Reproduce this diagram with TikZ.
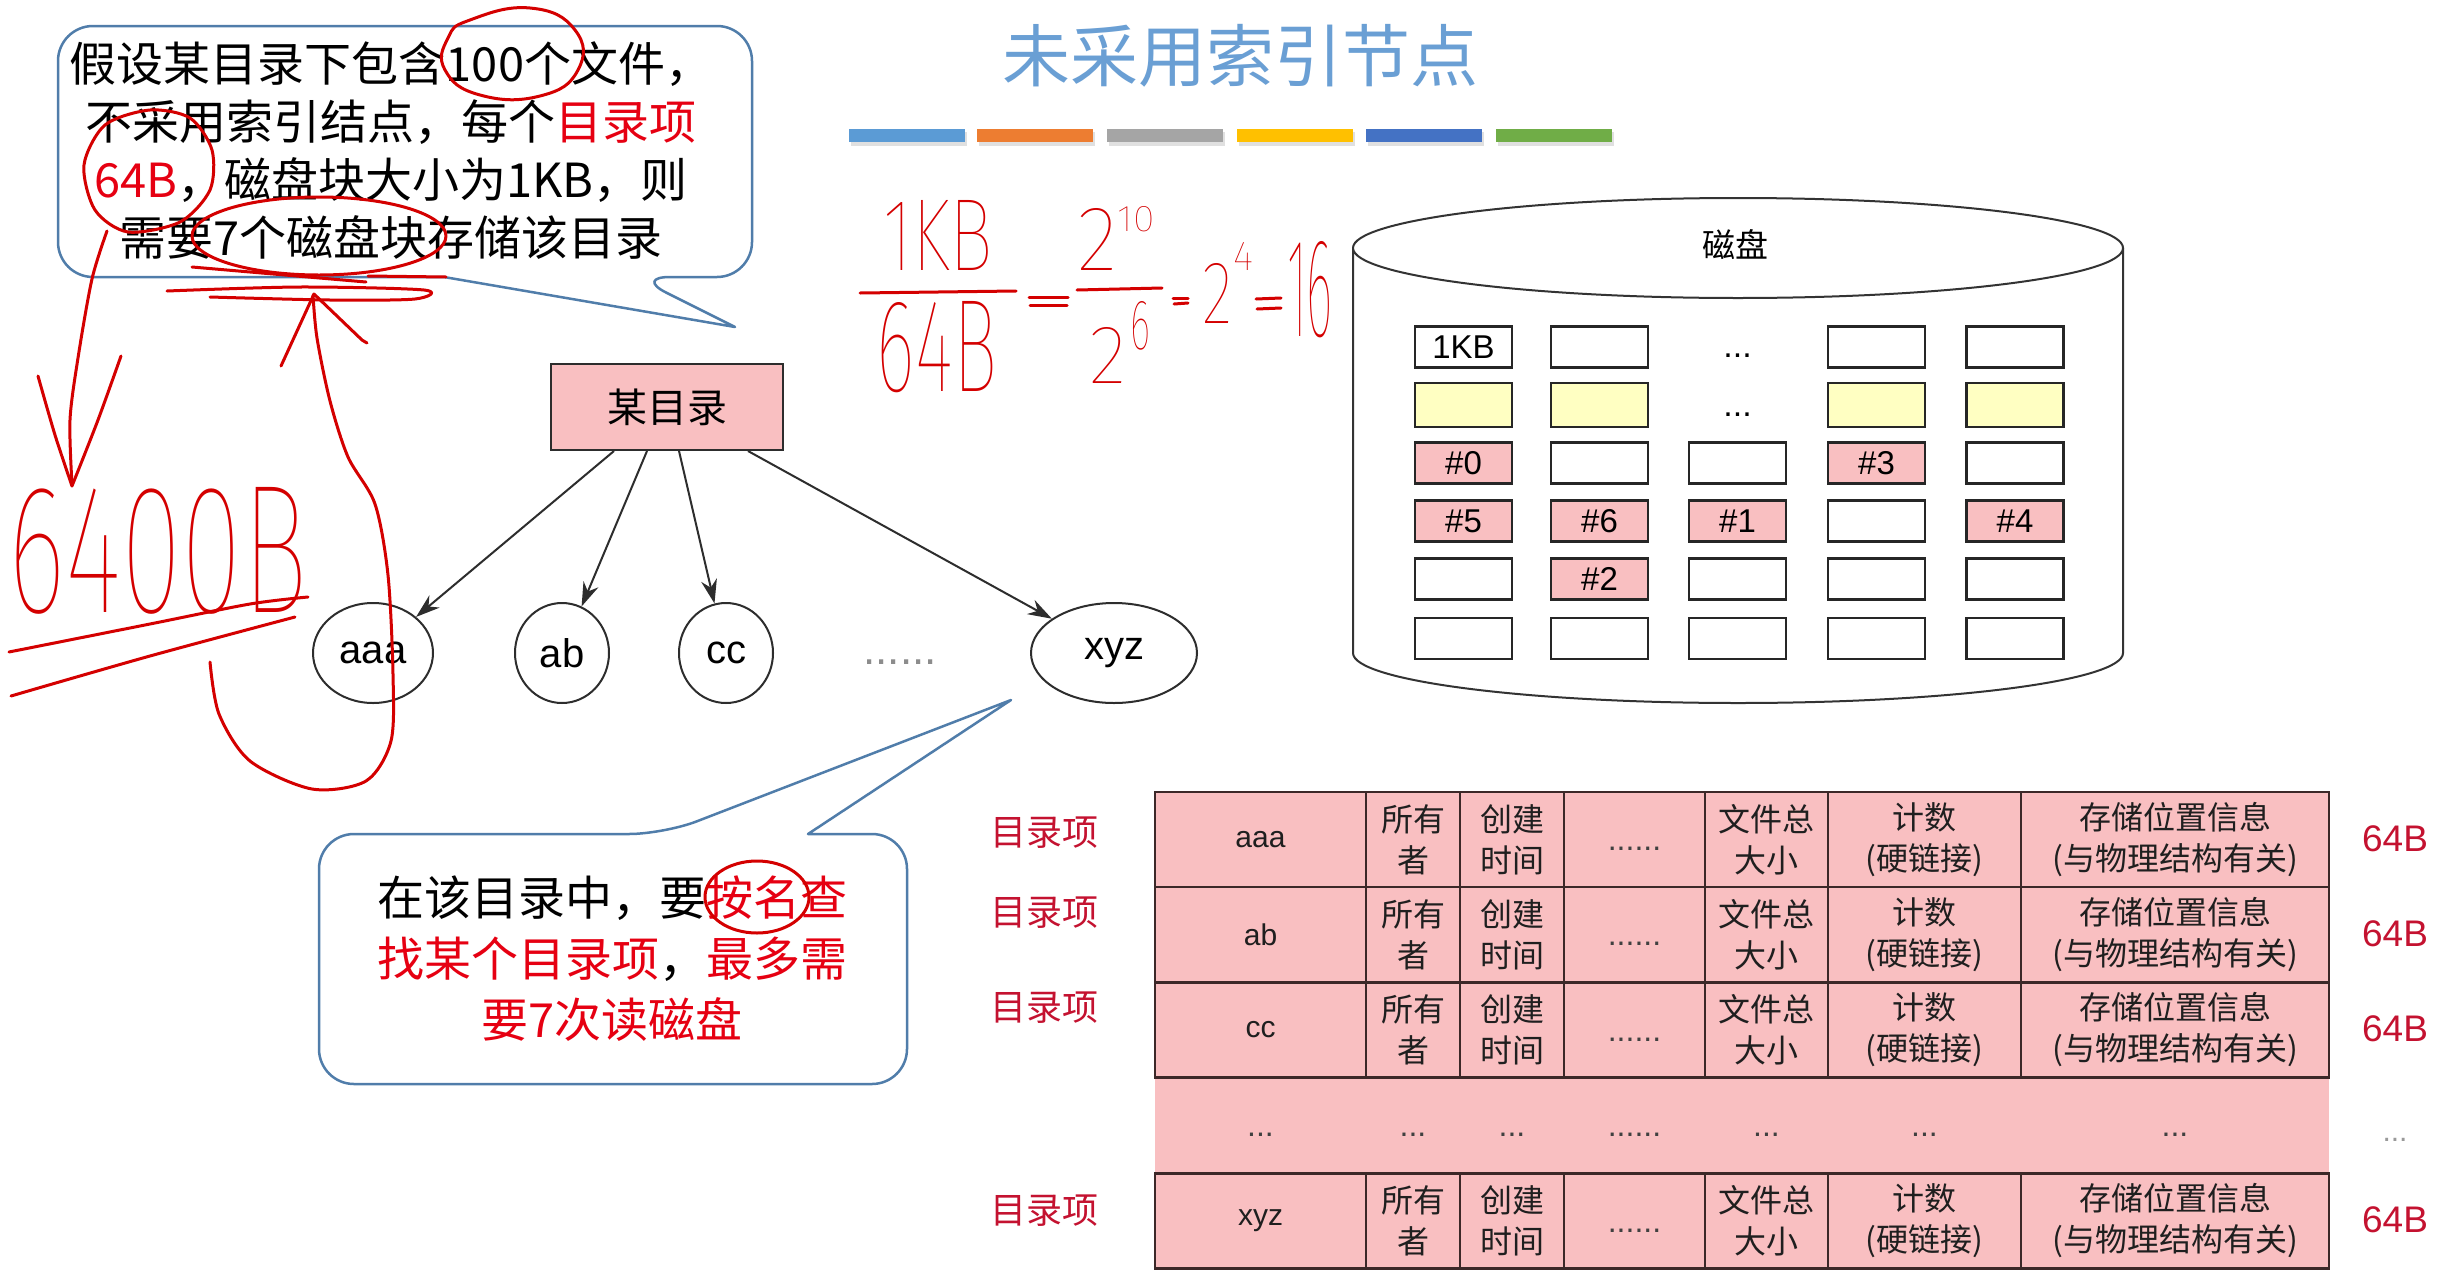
\documentclass[tikz,border=0pt]{standalone}
\usepackage{fontspec}
\usepackage{graphicx}
\setmainfont{Liberation Sans}
\newfontfamily\cjk{Noto Sans CJK SC}
\newfontfamily\hand{Fira Sans Thin}
\usetikzlibrary{arrows.meta,shapes.geometric,calc}

\definecolor{titleblue}{RGB}{106,159,212}
\definecolor{barA}{RGB}{91,155,213}
\definecolor{barB}{RGB}{237,125,49}
\definecolor{barC}{RGB}{165,165,165}
\definecolor{barD}{RGB}{255,192,0}
\definecolor{barE}{RGB}{68,114,196}
\definecolor{barF}{RGB}{112,173,71}
\definecolor{pinkfill}{RGB}{249,191,193}
\definecolor{paleyellow}{RGB}{255,255,194}
\definecolor{bubbleblue}{RGB}{80,125,170}
\definecolor{hot}{RGB}{230,0,18}
\definecolor{crimson}{RGB}{196,18,48}
\definecolor{inkred}{RGB}{212,0,0}
\definecolor{darkline}{RGB}{45,45,45}
\definecolor{tableline}{RGB}{60,40,40}

\newcommand{\tdots}{...}
\newcommand{\sdots}{......}

% handwritten word, stretched to a given box
\newcommand{\scrawl}[6]{\node[inkword] (#1) at (#2,#3) {\resizebox{#4pt}{#5pt}{\hand #6}};}

% one directory entry of the table
\newcommand{\entryrow}[3]{%
  \node[cell, minimum width=211pt, font={\fontsize{30}{36}\selectfont}] (#3-name) at (1260.5,#1) {#2};
  \node[cell, minimum width=94pt]  (#3-owner) at (1413,#1)   {所有\\者};
  \node[cell, minimum width=104pt] (#3-time)  at (1512,#1)   {创建\\时间};
  \node[cell, minimum width=141pt] (#3-etc)   at (1634.5,#1) {};
  \node[celldots] (#3-etcdots) at (1634.5,#1+11) {\sdots};
  \node[cell, minimum width=123pt] (#3-size)  at (1766.5,#1) {文件总\\大小};
  \node[cell, minimum width=193pt] (#3-links) at (1924.5,#1) {计数\\(硬链接)};
  \node[cell, minimum width=308pt] (#3-loc)   at (2175,#1)   {存储位置信息\\(与物理结构有关)};
}

\begin{document}
\begin{tikzpicture}[x=1pt,y=-1pt,
  every node/.style={inner sep=0pt},
  dirbox/.style={draw=darkline, fill=pinkfill, line width=2pt, minimum width=232pt, minimum height=86pt,
    font={\cjk\fontsize{40}{44}\selectfont}},
  fileell/.style={ellipse, draw=darkline, line width=2pt, minimum height=100pt,
    font={\fontsize{40}{44}\selectfont}},
  treearrow/.style={draw=darkline, line width=2pt, -{Stealth[length=24pt,width=16pt]}},
  bubble/.style={draw=bubbleblue, line width=2.5pt, fill=white, line join=round},
  bubbletext/.style={align=center, font={\cjk\fontsize{47}{58}\selectfont}},
  blk/.style={draw=black!85, line width=2.2pt, minimum width=97pt, minimum height=41pt,
    font={\fontsize{33}{36}\selectfont}},
  pinkblk/.style={blk, fill=pinkfill},
  yelblk/.style={blk, fill=paleyellow, minimum height=44pt},
  blkdots/.style={anchor=base, font={\fontsize{34}{36}\selectfont}},
  cell/.style={draw=tableline, fill=pinkfill, line width=2.5pt, minimum height=95pt, align=center,
    text=black!88, font={\cjk\fontsize{32}{41}\selectfont}},
  celldots/.style={anchor=base, text=black!75, font={\fontsize{32}{34}\selectfont}},
  entrylabel/.style={text=crimson, font={\cjk\fontsize{36}{40}\selectfont}},
  sizelabel/.style={text=crimson, font={\fontsize{37}{40}\selectfont}},
  ink/.style={draw=inkred, line width=3pt, line cap=round, line join=round},
  inkword/.style={text=inkred}
]
\useasboundingbox (0,0) rectangle (2440,1282);
\fill[white] (0,0) rectangle (2440,1282);

% ---------- title and colour strip ----------
\node[text=titleblue, font={\cjk\fontsize{68}{70}\selectfont}] (title) at (1240,56) {未采用索引节点};
\foreach \x/\c in {849/barA, 977/barB, 1107/barC, 1237/barD, 1366/barE, 1496/barF}{
  \fill[black, opacity=0.12] (\x+2,132) rectangle (\x+118,146);
  \fill[\c] (\x,129) rectangle (\x+116,142);
}

% ---------- speech bubbles ----------
\draw[bubble] (444,277) [rounded corners=35pt] -- (58,277) -- (58,26) -- (752,26) -- (752,277) -- (635,277)
  [sharp corners] -- (735,327) -- cycle;
\node[bubbletext] (note1) at (391,151) {假设某目录下包含100个文件，\\不采用索引结点，每个\textcolor{hot}{目录项}\\\textcolor{hot}{64B}，磁盘块大小为1KB，则\\需要7个磁盘块存储该目录};

\draw[bubble] (808,834) [rounded corners=35pt] -- (907,834) -- (907,1084) -- (319,1084) -- (319,834) -- (664,834)
  [sharp corners] -- (1011,700) -- cycle;
\node[bubbletext, font={\cjk\fontsize{47}{61}\selectfont}] (note2) at (612,959) {在该目录中，要\textcolor{hot}{按名查}\\\textcolor{hot}{找某个目录项}，\textcolor{hot}{最多需}\\\textcolor{hot}{要7次读磁盘}};

% ---------- directory tree ----------
\node[dirbox] (root) at (667,407) {某目录};
\node[fileell, minimum width=120pt] (aaa) at (373,653) {aaa};
\node[fileell, minimum width=94pt]  (ab)  at (562,653) {ab};
\node[fileell, minimum width=94pt]  (cc)  at (726,653) {cc};
\node[fileell, minimum width=166pt] (xyz) at (1114,653) {xyz};
\node[anchor=base, text=black!45, font={\fontsize{44}{46}\selectfont}] (more) at (900,664) {\sdots};

\draw[treearrow] ($(root.south)+(-53,0)$) -- (aaa);
\draw[treearrow] ($(root.south)+(-20,0)$) -- (ab);
\draw[treearrow] ($(root.south)+(12,0)$) -- (cc);
\draw[treearrow] ($(root.south)+(81,0)$) -- (xyz);

% ---------- disk ----------
\draw[draw=black!80, line width=2pt, fill=white] (1353,248) -- (1353,653)
  arc[start angle=180, end angle=0, x radius=385, y radius=50] -- (2123,248);
\draw[draw=black!80, line width=2pt, fill=white] (1738,248) ellipse[x radius=385, y radius=50];
\node[font={\cjk\fontsize{33}{36}\selectfont}] (disklabel) at (1735,245) {磁盘};

\node[blk] (b11) at (1463.5,347) {1KB};
\node[blk] (b12) at (1599.5,347) {};
\node[blkdots] (d1) at (1737.5,357) {\tdots};
\node[blk] (b14) at (1876.5,347) {};
\node[blk] (b15) at (2015,347) {};

\node[yelblk] (b21) at (1463.5,405) {};
\node[yelblk] (b22) at (1599.5,405) {};
\node[blkdots] (d2) at (1737.5,416) {\tdots};
\node[yelblk] (b24) at (1876.5,405) {};
\node[yelblk] (b25) at (2015,405) {};

\node[pinkblk] (b31) at (1463.5,463) {\#0};
\node[blk]     (b32) at (1599.5,463) {};
\node[blk]     (b33) at (1737.5,463) {};
\node[pinkblk] (b34) at (1876.5,463) {\#3};
\node[blk]     (b35) at (2015,463) {};

\node[pinkblk] (b41) at (1463.5,521) {\#5};
\node[pinkblk] (b42) at (1599.5,521) {\#6};
\node[pinkblk] (b43) at (1737.5,521) {\#1};
\node[blk]     (b44) at (1876.5,521) {};
\node[pinkblk] (b45) at (2015,521) {\#4};

\node[blk]     (b51) at (1463.5,579) {};
\node[pinkblk] (b52) at (1599.5,579) {\#2};
\node[blk]     (b53) at (1737.5,579) {};
\node[blk]     (b54) at (1876.5,579) {};
\node[blk]     (b55) at (2015,579) {};

\node[blk] (b61) at (1463.5,638.5) {};
\node[blk] (b62) at (1599.5,638.5) {};
\node[blk] (b63) at (1737.5,638.5) {};
\node[blk] (b64) at (1876.5,638.5) {};
\node[blk] (b65) at (2015,638.5) {};

% ---------- directory entries ----------
\node[fill=pinkfill, minimum width=1174pt, minimum height=95pt] (gap) at (1742,1125.5) {};
\node[celldots] (g1) at (1260.5,1136) {\tdots};
\node[celldots] (g2) at (1413,1136) {\tdots};
\node[celldots] (g3) at (1512,1136) {\tdots};
\node[celldots] (g4) at (1634.5,1136) {\sdots};
\node[celldots] (g5) at (1766.5,1136) {\tdots};
\node[celldots] (g6) at (1924.5,1136) {\tdots};
\node[celldots] (g7) at (2175,1136) {\tdots};
\entryrow{839.5}{aaa}{ea}
\entryrow{934.5}{ab}{eb}
\entryrow{1030}{cc}{ec}
\entryrow{1221}{xyz}{ez}

\node[entrylabel] (l1) at (1044,833) {目录项};
\node[entrylabel] (l2) at (1044,913) {目录项};
\node[entrylabel] (l3) at (1044,1008) {目录项};
\node[entrylabel] (l4) at (1044,1211) {目录项};
\node[sizelabel] (s1) at (2395,839) {64B};
\node[sizelabel] (s2) at (2395,934) {64B};
\node[sizelabel] (s3) at (2395,1029) {64B};
\node[anchor=base, text=black!40, font={\fontsize{30}{32}\selectfont}] (s4) at (2395,1141) {\tdots};
\node[sizelabel] (s5) at (2395,1220) {64B};

% ---------- red pen notes ----------
% 1KB / 64B = 2^10 / 2^6 = 2^4 = 16
\scrawl{fkb}{938}{235}{110}{70}{1KB}
\draw[ink] (860,293) -- (1016,291);
\scrawl{fsf}{937}{347}{120}{90}{64B}
\draw[ink] (1029,297) -- (1068,297);
\draw[ink] (1030,305) -- (1067,305);
\scrawl{fta}{1097}{239}{40}{62}{2}
\scrawl{ften}{1136}{219}{37}{25}{10}
\draw[ink] (1077,290) -- (1162,288);
\scrawl{ftb}{1108}{355}{37}{56}{2}
\scrawl{fsix}{1140}{326}{20}{48}{6}
\draw[ink] (1173,298) -- (1188,298);
\draw[ink] (1174,304) -- (1188,303);
\scrawl{ftc}{1217}{293}{30}{60}{2}
\scrawl{ffour}{1243}{256}{20}{28}{4}
\draw[ink] (1256,299) -- (1281,298);
\draw[ink] (1257,309) -- (1281,308);
\scrawl{fsixteen}{1310}{290}{46}{95}{16}

% 6400B with its underlines
\scrawl{total}{158}{551}{299}{125}{6400B}
\draw[ink] plot[smooth] coordinates {(9,652) (150,624) (250,604) (308,597)};
\draw[ink] plot[smooth] coordinates {(11,696) (150,656) (295,617)};

% rings and underlines on the first bubble
\draw[ink] plot[smooth cycle, tension=0.8] coordinates {(470,20) (530,8) (575,30) (578,70) (540,96) (480,95) (445,70) (448,38)};
\draw[ink] plot[smooth cycle] coordinates {(150,110) (190,118) (212,150) (210,190) (180,222) (128,232) (95,210) (84,165) (105,125)};
\draw[ink] (319,236) ellipse[x radius=127, y radius=39];
\draw[ink] plot[smooth] coordinates {(167,291) (300,287) (424,290) (415,299) (330,300) (210,297)};
\draw[ink] (192,267) -- (366,282);
\draw[ink] (368,276) -- (446,277);

% arrow down to 6400B
\draw[ink] plot[smooth] coordinates {(107,231) (92,279) (78,358) (70,420) (72,484)};
\draw[ink] plot[smooth] coordinates {(38,376) (55,435) (72,486)};
\draw[ink] plot[smooth] coordinates {(72,486) (98,420) (121,356)};

% loop around aaa back up to the bubble
\draw[ink] plot[smooth] coordinates {(210,662) (219,714) (250,761) (312,789) (366,781) (391,741) (393,674) (388,575) (375,504) (348,457) (330,401) (317,338) (313,295)};
\draw[ink] (281,366) -- (314,294) -- (362,340) -- (367,343);

% ring around 按名
\draw[ink] (757,897) ellipse[x radius=52, y radius=36];
\end{tikzpicture}
\end{document}
